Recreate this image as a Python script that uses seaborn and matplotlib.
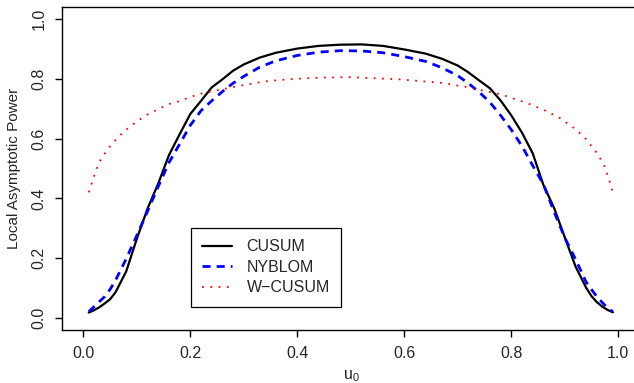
import matplotlib
matplotlib.use("Agg")
import matplotlib.pyplot as plt
import seaborn as sns
import pandas as pd

u_cusum = [0.01, 0.02, 0.03, 0.04, 0.05, 0.06, 0.08, 0.10, 0.12, 0.14, 0.16, 0.18, 0.20,
           0.22, 0.24, 0.26, 0.28, 0.30, 0.33, 0.36, 0.40, 0.44, 0.48, 0.52, 0.56, 0.60,
           0.64, 0.67, 0.70, 0.72, 0.74, 0.76, 0.78, 0.80, 0.82, 0.84, 0.86, 0.88, 0.90,
           0.92, 0.94, 0.95, 0.96, 0.97, 0.98, 0.99]
cusum = [0.017, 0.025, 0.035, 0.048, 0.062, 0.085, 0.155, 0.265, 0.366, 0.450, 0.545, 0.615, 0.683,
         0.727, 0.772, 0.799, 0.828, 0.849, 0.872, 0.888, 0.902, 0.911, 0.915, 0.916, 0.911, 0.899,
         0.885, 0.868, 0.845, 0.822, 0.795, 0.769, 0.728, 0.678, 0.620, 0.551, 0.445, 0.368, 0.269,
         0.172, 0.100, 0.072, 0.052, 0.037, 0.026, 0.018]

u_nyblom = [0.01, 0.02, 0.03, 0.04, 0.05, 0.06, 0.08, 0.10, 0.12, 0.14, 0.16, 0.18, 0.20,
            0.22, 0.24, 0.26, 0.28, 0.30, 0.33, 0.36, 0.40, 0.44, 0.48, 0.52, 0.56, 0.60,
            0.64, 0.67, 0.70, 0.72, 0.74, 0.76, 0.78, 0.80, 0.82, 0.84, 0.86, 0.88, 0.90,
            0.92, 0.94, 0.96, 0.98, 0.99]
nyblom = [0.020, 0.037, 0.054, 0.071, 0.095, 0.125, 0.197, 0.276, 0.357, 0.440, 0.520, 0.582, 0.645,
          0.694, 0.727, 0.758, 0.786, 0.809, 0.840, 0.861, 0.879, 0.890, 0.895, 0.894, 0.888, 0.875,
          0.859, 0.838, 0.811, 0.785, 0.756, 0.722, 0.678, 0.630, 0.575, 0.510, 0.447, 0.355, 0.268,
          0.196, 0.119, 0.070, 0.032, 0.020]

u_wcusum = [0.01, 0.015, 0.02, 0.025, 0.03, 0.04, 0.05, 0.06, 0.07, 0.08, 0.10, 0.12, 0.14,
            0.16, 0.18, 0.20, 0.22, 0.25, 0.28, 0.31, 0.34, 0.37, 0.41, 0.45, 0.50, 0.55,
            0.59, 0.63, 0.67, 0.72, 0.75, 0.78, 0.80, 0.83, 0.86, 0.89, 0.92, 0.94, 0.96,
            0.97, 0.975, 0.98, 0.985, 0.99]
wcusum = [0.420, 0.447, 0.474, 0.500, 0.522, 0.550, 0.575, 0.595, 0.614, 0.630, 0.658, 0.681, 0.699,
          0.716, 0.726, 0.740, 0.751, 0.762, 0.773, 0.783, 0.792, 0.797, 0.802, 0.805, 0.806, 0.802,
          0.799, 0.793, 0.787, 0.772, 0.760, 0.749, 0.737, 0.719, 0.697, 0.670, 0.632, 0.598, 0.552,
          0.522, 0.505, 0.478, 0.450, 0.420]

x_ticks = [0.0, 0.2, 0.4, 0.6, 0.8, 1.0]
y_ticks = [0.0, 0.2, 0.4, 0.6, 0.8, 1.0]

sns.set_style("white")
plt.rcParams['font.family'] = ['Liberation Sans', 'DejaVu Sans']
plt.rcParams['font.size'] = 11.5

fig = plt.figure(figsize=(6.34, 3.83), dpi=100)
W, H = 634.0, 383.0
# the plot box runs past the right edge of the picture
x_left, x_right = -0.04, 1.078
ax = fig.add_axes([62 / W, (H - 329.6) / H, 598 / W, 322.2 / H])

sns.lineplot(x=u_cusum, y=cusum, ax=ax, color="black", lw=1.6, label="CUSUM", errorbar=None)
sns.lineplot(x=u_nyblom, y=nyblom, ax=ax, color="blue", lw=2.0, label="NYBLOM", errorbar=None,
             linestyle=(0, (2.9, 2.2)))
sns.lineplot(x=u_wcusum, y=wcusum, ax=ax, color="red", lw=1.3, label="W-CUSUM", errorbar=None,
             linestyle=(0, (1, 3.6)))

ax.set_xlim(x_left, x_right)
ax.set_ylim(-0.04, 1.04)
ax.set_xticks(x_ticks)
ax.set_yticks(y_ticks)
ax.set_xticklabels(["%.1f" % t for t in x_ticks])
ax.set_yticklabels(["%.1f" % t for t in y_ticks], rotation=90, va="center")
ax.tick_params(axis="both", direction="out", length=5, width=1, color="black",
               labelsize=11.5, left=True, bottom=True)
ax.tick_params(axis="x", pad=7)
ax.tick_params(axis="y", pad=6)
for s in ax.spines.values():
    s.set_color("black")
    s.set_linewidth(1.0)
ax.spines["right"].set_visible(False)

ax.set_xlabel("")
fig.text(351 / W, 1 - 376 / H, r"$\mathregular{u_0}$", fontsize=11.5, ha="center", va="center")
ax.set_ylabel("Local Asymptotic Power", fontsize=11, labelpad=8)

leg = ax.legend(loc="upper left", bbox_to_anchor=((190.7 - 62) / 598, 0.3153), borderaxespad=0,
                frameon=True, fancybox=False, framealpha=1, edgecolor="black",
                fontsize=11.5, handlelength=1.9, handletextpad=0.9, labelspacing=0.35,
                borderpad=0.7)
leg.get_frame().set_linewidth(0.9)
leg.legend_handles[2].set_linestyle((0, (1, 3.6)))
for t in leg.get_texts():
    t.set_text(t.get_text().replace("-", "\u2212"))

fig.savefig("out.png", dpi=100)
